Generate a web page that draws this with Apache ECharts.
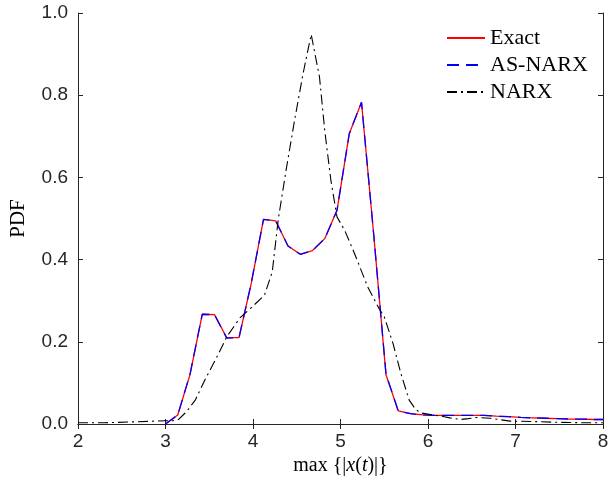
<!DOCTYPE html>
<html>
<head>
<meta charset="utf-8">
<script src="https://cdn.jsdelivr.net/npm/echarts@6/dist/echarts.min.js"></script>
<style>
html,body{margin:0;padding:0;background:#fff;}
#chart{width:612px;height:491px;}
</style>
</head>
<body>
<div id="chart"></div>
<script>
var seriesNames = ['Exact', 'AS-NARX', 'NARX'];
var xTicks = [2, 3, 4, 5, 6, 7, 8];
var yTicks = [0.0, 0.2, 0.4, 0.6, 0.8, 1.0];

var exactX = [3.00,3.14,3.28,3.42,3.56,3.70,3.84,3.98,4.12,4.26,4.40,4.54,4.68,4.82,4.96,5.10,5.24,5.38,5.52,5.66,5.80,5.94,6.08,6.22,6.36,6.50,6.64,6.78,6.92,7.06,7.20,7.34,7.48,7.62,7.76,7.90,8.00];
var exactY = [0.000,0.022,0.120,0.267,0.266,0.210,0.210,0.342,0.498,0.494,0.433,0.413,0.422,0.451,0.520,0.706,0.783,0.460,0.120,0.032,0.025,0.022,0.021,0.021,0.021,0.021,0.021,0.019,0.018,0.016,0.015,0.014,0.013,0.012,0.012,0.011,0.011];

var asnarxX = [3.00,3.14,3.28,3.42,3.56,3.70,3.84,3.98,4.12,4.26,4.40,4.54,4.68,4.82,4.96,5.10,5.24,5.38,5.52,5.66,5.80,5.94,6.08,6.22,6.36,6.50,6.64,6.78,6.92,7.06,7.20,7.34,7.48,7.62,7.76,7.90,8.00];
var asnarxY = [0.000,0.022,0.121,0.267,0.266,0.209,0.210,0.343,0.498,0.494,0.433,0.413,0.422,0.451,0.520,0.706,0.783,0.460,0.121,0.032,0.025,0.022,0.021,0.021,0.021,0.021,0.021,0.019,0.018,0.016,0.015,0.014,0.013,0.012,0.012,0.011,0.011];

var narxX = [2.00,2.30,2.60,2.88,3.00,3.08,3.15,3.24,3.34,3.45,3.58,3.70,3.85,3.99,4.13,4.22,4.29,4.38,4.475,4.57,4.665,4.76,4.82,4.89,4.96,5.05,5.16,5.31,5.44,5.50,5.60,5.69,5.785,5.86,5.92,6.05,6.15,6.25,6.37,6.46,6.56,6.71,6.94,7.20,7.51,7.80,8.00];
var narxY = [0.003,0.003,0.005,0.007,0.008,0.008,0.011,0.030,0.058,0.107,0.160,0.212,0.258,0.285,0.313,0.370,0.500,0.620,0.739,0.850,0.948,0.844,0.714,0.593,0.504,0.470,0.415,0.334,0.281,0.261,0.196,0.123,0.058,0.035,0.027,0.022,0.019,0.015,0.011,0.013,0.016,0.014,0.007,0.006,0.004,0.003,0.003];

function zip(xs, ys) { return xs.map(function (x, i) { return [x, ys[i]]; }); }

var axisColor = '#262626';
var tickFont = { color: axisColor, fontFamily: 'Liberation Sans, Arial, sans-serif', fontSize: 19 };

var chart = echarts.init(document.getElementById('chart'), null, { renderer: 'canvas' });
chart.setOption({
  animation: false,
  backgroundColor: '#ffffff',
  grid: { left: 77, right: 9, top: 13, bottom: 67, containLabel: false },
  legend: {
    data: seriesNames,
    orient: 'vertical',
    left: 441,
    top: 22,
    itemWidth: 38,
    itemHeight: 14,
    itemGap: 5,
    itemStyle: { opacity: 0, borderWidth: 0 },
    textStyle: { fontFamily: 'Liberation Serif, Times New Roman, serif', fontSize: 22, color: '#000', lineHeight: 21 }
  },
  xAxis: [{
    type: 'value', min: xTicks[0], max: xTicks[xTicks.length - 1], interval: 1,
    position: 'bottom',
    axisLine: { show: true, lineStyle: { color: axisColor, width: 1 } },
    axisTick: { show: true, inside: true, length: 5, lineStyle: { color: axisColor } },
    axisLabel: Object.assign({ margin: 8, formatter: function (v) { return String(v); } }, tickFont),
    splitLine: { show: false },
    name: '{r|max \u007B|}{i|x}{r|(}{i|t}{r|)|}\u007D',
    nameLocation: 'middle',
    nameGap: 32,
    nameTextStyle: {
      fontFamily: 'Liberation Serif, serif', fontSize: 20, color: '#000',
      rich: {
        r: { fontFamily: 'Liberation Serif, serif', fontSize: 20, color: '#000' },
        i: { fontFamily: 'Liberation Serif, serif', fontSize: 20, fontStyle: 'italic', color: '#000' }
      }
    }
  }, {
    type: 'value', min: xTicks[0], max: xTicks[xTicks.length - 1], interval: 1,
    position: 'top',
    axisLine: { show: true, lineStyle: { color: axisColor, width: 1 } },
    axisTick: { show: true, inside: true, length: 5, lineStyle: { color: axisColor } },
    axisLabel: { show: false },
    splitLine: { show: false }
  }],
  yAxis: [{
    type: 'value', min: yTicks[0], max: yTicks[yTicks.length - 1], interval: 0.2,
    position: 'left',
    axisLine: { show: true, lineStyle: { color: axisColor, width: 1 } },
    axisTick: { show: true, inside: true, length: 5, lineStyle: { color: axisColor } },
    axisLabel: Object.assign({ margin: 10, formatter: function (v) { return v.toFixed(1); } }, tickFont),
    splitLine: { show: false },
    name: 'PDF',
    nameLocation: 'middle',
    nameGap: 49,
    nameRotate: 90,
    nameTextStyle: { fontFamily: 'Liberation Serif, serif', fontSize: 21, color: '#000' }
  }, {
    type: 'value', min: yTicks[0], max: yTicks[yTicks.length - 1], interval: 0.2,
    position: 'right',
    axisLine: { show: true, lineStyle: { color: axisColor, width: 1 } },
    axisTick: { show: true, inside: true, length: 5, lineStyle: { color: axisColor } },
    axisLabel: { show: false },
    splitLine: { show: false }
  }],
  series: [{
    name: seriesNames[0], type: 'line', xAxisIndex: 0, yAxisIndex: 0,
    data: zip(exactX, exactY), symbol: 'none', smooth: false,
    lineStyle: { color: '#ff0000', width: 1.3, type: 'solid' },
    itemStyle: { color: '#ff0000' }
  }, {
    name: seriesNames[1], type: 'line', xAxisIndex: 0, yAxisIndex: 0,
    data: zip(asnarxX, asnarxY), symbol: 'none', smooth: false,
    lineStyle: { color: '#0000ff', width: 1.3, type: [12, 7] },
    itemStyle: { color: '#0000ff' }
  }, {
    name: seriesNames[2], type: 'line', xAxisIndex: 0, yAxisIndex: 0,
    data: zip(narxX, narxY), symbol: 'none', smooth: false,
    lineStyle: { color: '#000000', width: 1.1, type: [10, 4, 2, 4] },
    itemStyle: { color: '#000000' }
  }]
});
</script>
</body>
</html>
